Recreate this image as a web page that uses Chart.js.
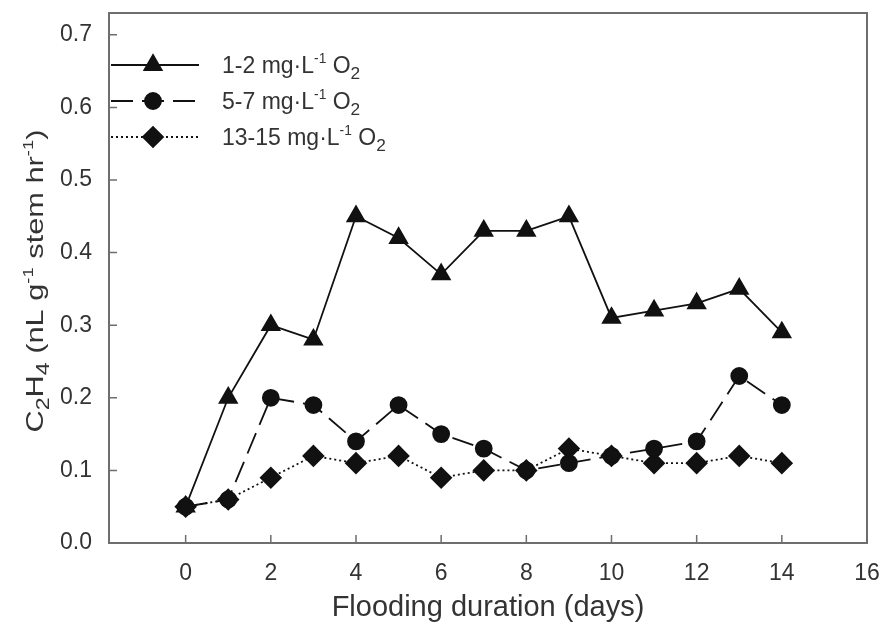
<!DOCTYPE html>
<html>
<head>
<meta charset="utf-8">
<script src="https://cdn.jsdelivr.net/npm/chart.js@4"></script>
<style>
  html, body { margin: 0; padding: 0; background: #fff; }
  #wrap { width: 881px; height: 628px; }
</style>
</head>
<body>
<div id="wrap"><canvas id="grafico"></canvas></div>
<script>
const dias = [0, 1, 2, 3, 4, 5, 6, 7, 8, 9, 10, 11, 12, 13, 14];
const serieBaixa = [0.05, 0.20, 0.30, 0.28, 0.45, 0.42, 0.37, 0.43, 0.43, 0.45, 0.31, 0.32, 0.33, 0.35, 0.29];
const serieMedia = [0.05, 0.06, 0.20, 0.19, 0.14, 0.19, 0.15, 0.13, 0.10, 0.11, 0.12, 0.13, 0.14, 0.23, 0.19];
const serieAlta = [0.05, 0.06, 0.09, 0.12, 0.11, 0.12, 0.09, 0.10, 0.10, 0.13, 0.12, 0.11, 0.11, 0.12, 0.11];
const ticksX = [0, 2, 4, 6, 8, 10, 12, 14, 16];
const ticksY = [0, 0.1, 0.2, 0.3, 0.4, 0.5, 0.6, 0.7];
const legendas = [
  [['1-2 mg·L', ''], ['-1', 'sup'], [' O', ''], ['2', 'sub']],
  [['5-7 mg·L', ''], ['-1', 'sup'], [' O', ''], ['2', 'sub']],
  [['13-15 mg·L', ''], ['-1', 'sup'], [' O', ''], ['2', 'sub']],
];
const tituloY = [['C', ''], ['2', 'sub'], ['H', ''], ['4', 'sub'], [' (nL g', ''], ['-1', 'sup'], [' stem hr', ''], ['-1', 'sup'], [')', '']];

const FONTE = '"Liberation Sans", Arial, sans-serif';
const COR_TEXTO = '#333';

function pontos(valores) {
  return dias.map((d, i) => ({ x: d, y: valores[i] }));
}

function escala(tipo) {
  if (tipo === 'sup') return 0.6;
  if (tipo === 'sub') return 0.75;
  return 1;
}

function desenhaTexto(ctx, partes, x, y, tamanho) {
  // desenha texto com sub/sobrescrito a partir de x (baseline em y)
  partes.forEach(([t, tipo]) => {
    const tam = tamanho * escala(tipo);
    let dy = 0;
    if (tipo === 'sup') dy = -tamanho * 0.42;
    if (tipo === 'sub') dy = tamanho * 0.28;
    ctx.font = tam + 'px ' + FONTE;
    ctx.fillText(t, x, y + dy);
    x += ctx.measureText(t).width;
  });
  return x;
}

function larguraTexto(ctx, partes, tamanho) {
  let w = 0;
  partes.forEach(([t, tipo]) => {
    ctx.font = tamanho * escala(tipo) + 'px ' + FONTE;
    w += ctx.measureText(t).width;
  });
  return w;
}

const estilos = [
  { ponto: 'triangle', raio: 10, traco: [] },
  { ponto: 'circle', raio: 8, traco: [22, 9] },
  { ponto: 'rectRot', raio: 10, traco: [2, 3] },
];

const molduraPlugin = {
  id: 'moldura',
  afterDraw(chart) {
    const ctx = chart.ctx;
    const a = chart.chartArea;
    const sx = chart.scales.x;
    const sy = chart.scales.y;
    ctx.save();
    ctx.strokeStyle = '#6e6e6e';
    ctx.lineWidth = 2;
    ctx.strokeRect(a.left, a.top, a.right - a.left, a.bottom - a.top);
    ctx.lineWidth = 1.5;
    ctx.beginPath();
    ticksX.forEach((v) => {
      const px = sx.getPixelForValue(v);
      ctx.moveTo(px, a.bottom);
      ctx.lineTo(px, a.bottom - 8);
    });
    ticksY.forEach((v) => {
      const py = sy.getPixelForValue(v);
      ctx.moveTo(a.left, py);
      ctx.lineTo(a.left + 8, py);
    });
    ctx.stroke();

    // legenda
    const linhasY = [65, 101, 137];
    legendas.forEach((partes, i) => {
      const y = linhasY[i];
      const e = estilos[i];
      ctx.strokeStyle = '#111';
      ctx.lineWidth = 1.8;
      ctx.setLineDash(e.traco);
      ctx.beginPath();
      ctx.moveTo(a.left + 2, y);
      ctx.lineTo(a.left + 90, y);
      ctx.stroke();
      ctx.setLineDash([]);
      ctx.fillStyle = '#111';
      Chart.helpers.drawPoint(ctx, { pointStyle: e.ponto, radius: e.raio, rotation: 0, borderWidth: 1 }, a.left + 44, y);
      ctx.fill();
      ctx.fillStyle = COR_TEXTO;
      ctx.textBaseline = 'alphabetic';
      ctx.textAlign = 'left';
      desenhaTexto(ctx, partes, a.left + 113, y + 8, 23);
    });

    // titulo eixo y (esticado para o comprimento do original)
    ctx.translate(34, 281);
    ctx.rotate(-Math.PI / 2);
    const tam = 24;
    const w = larguraTexto(ctx, tituloY, tam);
    const alvo = 303;
    ctx.scale(alvo / w, 1);
    desenhaTexto(ctx, tituloY, -w / 2, tam * 0.36, tam);
    ctx.restore();
  },
};

const config = {
  type: 'line',
  data: {
    datasets: [
      { label: '1-2', data: pontos(serieBaixa), borderDash: estilos[0].traco, pointStyle: 'triangle', pointRadius: estilos[0].raio },
      { label: '5-7', data: pontos(serieMedia), borderDash: estilos[1].traco, pointStyle: 'circle', pointRadius: estilos[1].raio },
      { label: '13-15', data: pontos(serieAlta), borderDash: estilos[2].traco, pointStyle: 'rectRot', pointRadius: estilos[2].raio },
    ].map((d) => Object.assign(d, {
      borderColor: '#111',
      backgroundColor: '#111',
      pointBackgroundColor: '#111',
      pointBorderColor: '#111',
      borderWidth: 1.8,
      tension: 0,
      fill: false,
    })),
  },
  options: {
    responsive: true,
    maintainAspectRatio: false,
    animation: false,
    layout: { padding: { top: 13, right: 14, left: 0, bottom: 0 } },
    plugins: {
      legend: { display: false },
      tooltip: { enabled: false },
    },
    scales: {
      x: {
        type: 'linear',
        min: -1.8,
        max: 16,
        afterBuildTicks: (s) => { s.ticks = ticksX.map((v) => ({ value: v })); },
        afterFit: (s) => { s.height = 85; s.paddingLeft = 0; s.paddingRight = 0; },
        grid: { display: false },
        border: { display: false },
        ticks: { color: COR_TEXTO, font: { family: FONTE, size: 23 }, padding: 9, maxRotation: 0 },
        title: { display: true, text: 'Flooding duration (days)', color: COR_TEXTO, font: { family: FONTE, size: 29 }, padding: { top: 0, bottom: 3 } },
      },
      y: {
        min: 0,
        max: 0.73,
        afterBuildTicks: (s) => { s.ticks = ticksY.map((v) => ({ value: v })); },
        afterFit: (s) => { s.width = 109; s.paddingTop = 0; s.paddingBottom = 0; },
        grid: { display: false },
        border: { display: false },
        ticks: { color: COR_TEXTO, font: { family: FONTE, size: 23 }, padding: 9, callback: (v) => v.toFixed(1) },
      },
    },
  },
  plugins: [molduraPlugin],
};

new Chart(document.getElementById('grafico').getContext('2d'), config);
</script>
</body>
</html>
